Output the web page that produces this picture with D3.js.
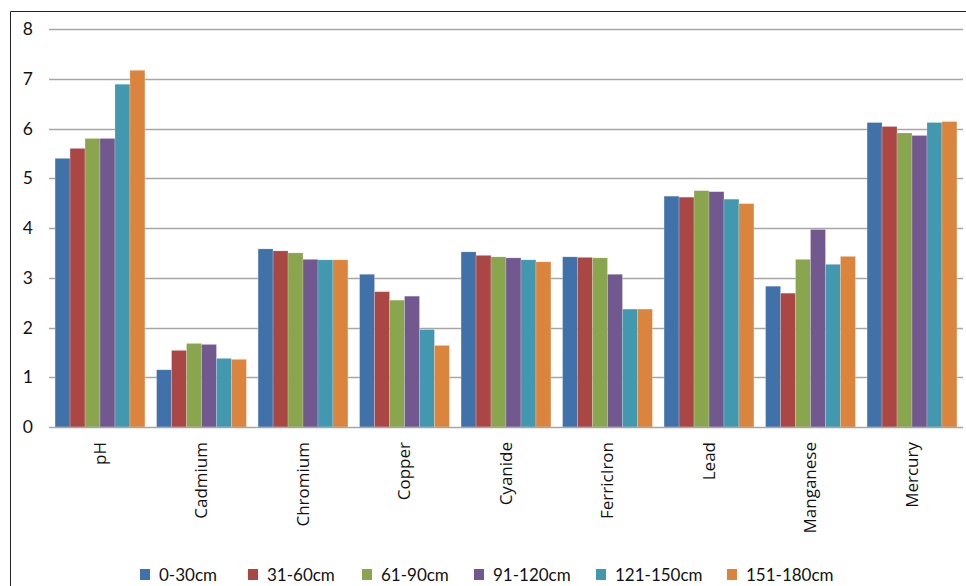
<!DOCTYPE html>
<html>
<head>
<meta charset="utf-8">
<script src="https://cdn.jsdelivr.net/npm/d3@7"></script>
<style>
  html, body { margin: 0; padding: 0; background: #fff; }
  svg { display: block; }
  text { font-family: Lato, "Open Sans", "Noto Sans", sans-serif; fill: #111; }
</style>
</head>
<body>
<svg id="chart" width="966" height="586"></svg>
<script>
const categories = ["pH", "Cadmium", "Chromium", "Copper", "Cyanide", "FerricIron", "Lead", "Manganese", "Mercury"];
const seriesNames = ["0-30cm", "31-60cm", "61-90cm", "91-120cm", "121-150cm", "151-180cm"];
const seriesColors = ["#4071a9", "#aa4644", "#89a54e", "#71588f", "#4198af", "#db843d"];
const yTicks = [0, 1, 2, 3, 4, 5, 6, 7, 8];

const s0_30   = [5.40, 1.15, 3.58, 3.07, 3.52, 3.42, 4.64, 2.83, 6.12];
const s31_60  = [5.60, 1.54, 3.54, 2.72, 3.45, 3.41, 4.62, 2.69, 6.04];
const s61_90  = [5.80, 1.68, 3.50, 2.55, 3.42, 3.40, 4.75, 3.37, 5.91];
const s91_120 = [5.80, 1.66, 3.37, 2.63, 3.40, 3.07, 4.73, 3.97, 5.86];
const s121_150= [6.89, 1.38, 3.36, 1.96, 3.36, 2.37, 4.58, 3.27, 6.12];
const s151_180= [7.17, 1.36, 3.36, 1.64, 3.32, 2.37, 4.49, 3.43, 6.14];
const seriesValues = [s0_30, s31_60, s61_90, s91_120, s121_150, s151_180];

const svg = d3.select("#chart");

// frame lines
svg.append("line").attr("x1", 10.5).attr("x2", 10.5).attr("y1", 11.5).attr("y2", 586)
  .attr("stroke", "#222").attr("stroke-width", 1);
svg.append("line").attr("x1", 10.5).attr("x2", 966).attr("y1", 11.5).attr("y2", 11.5)
  .attr("stroke", "#222").attr("stroke-width", 1);

const plotLeft = 49, plotRight = 963, plotTop = 29, plotBottom = 427;

const y = d3.scaleLinear().domain([0, 8]).range([plotBottom, plotTop]);
const x0 = d3.scaleBand().domain(categories).range([plotLeft, plotRight]).paddingInner(0.115).paddingOuter(0.06);
const x1 = d3.scaleBand().domain(seriesNames).range([0, x0.bandwidth()]).padding(0);

// gridlines
svg.append("g").selectAll("line").data(yTicks.filter(t => t > 0)).join("line")
  .attr("x1", plotLeft).attr("x2", plotRight)
  .attr("y1", d => Math.round(y(d)) + 0.5).attr("y2", d => Math.round(y(d)) + 0.5)
  .attr("stroke", "#a6a6a6").attr("stroke-width", 1.3);

// y axis labels
const yAxis = d3.axisLeft(y).tickValues(yTicks).tickSize(0).tickPadding(0);
const yg = svg.append("g").attr("transform", `translate(33,0)`).call(yAxis);
yg.select(".domain").remove();
yg.selectAll("text").attr("font-size", 17.5).style("font-family", "Lato, 'Open Sans', sans-serif").attr("fill", "#111");

// bars
const groups = svg.append("g").selectAll("g").data(categories).join("g")
  .attr("transform", d => `translate(${x0(d)},0)`);
groups.selectAll("rect")
  .data((c, i) => seriesNames.map((s, j) => ({ s, v: seriesValues[j][i], c: seriesColors[j] })))
  .join("rect")
  .attr("x", d => x1(d.s))
  .attr("width", x1.bandwidth())
  .attr("y", d => y(d.v))
  .attr("height", d => y(0) - y(d.v))
  .attr("fill", d => d.c)
  .attr("stroke", "rgba(255,255,255,0.35)")
  .attr("stroke-width", 0.6);

// x baseline
svg.append("line").attr("x1", plotLeft).attr("x2", plotRight)
  .attr("y1", plotBottom + 0.5).attr("y2", plotBottom + 0.5)
  .attr("stroke", "#a6a6a6").attr("stroke-width", 1.5);

// category labels (rotated)
const xAxis = d3.axisBottom(x0).tickSize(0).tickPadding(0);
const xg = svg.append("g").attr("transform", `translate(0,${plotBottom})`).call(xAxis);
xg.select(".domain").remove();
xg.selectAll("text")
  .attr("font-size", 17)
  .style("font-family", "'Open Sans', Lato, sans-serif")
  .attr("fill", "#111")
  .attr("text-anchor", "end")
  .attr("dy", "0.35em")
  .attr("transform", "translate(0,15) rotate(-90)")
  .attr("x", 0).attr("y", 0);

// legend
const legendX = [140, 248, 362, 474, 596, 727];
const legend = svg.append("g").selectAll("g").data(seriesNames).join("g")
  .attr("transform", (d, i) => `translate(${legendX[i]},575)`);
legend.append("rect").attr("x", 0).attr("y", -6).attr("width", 10).attr("height", 11)
  .attr("fill", (d, i) => seriesColors[i]);
legend.append("text").attr("x", 19).attr("y", 0).attr("dy", "0.35em")
  .attr("font-size", 17).text(d => d)
  .style("font-family", "Lato, 'Open Sans', sans-serif");
</script>
</body>
</html>
